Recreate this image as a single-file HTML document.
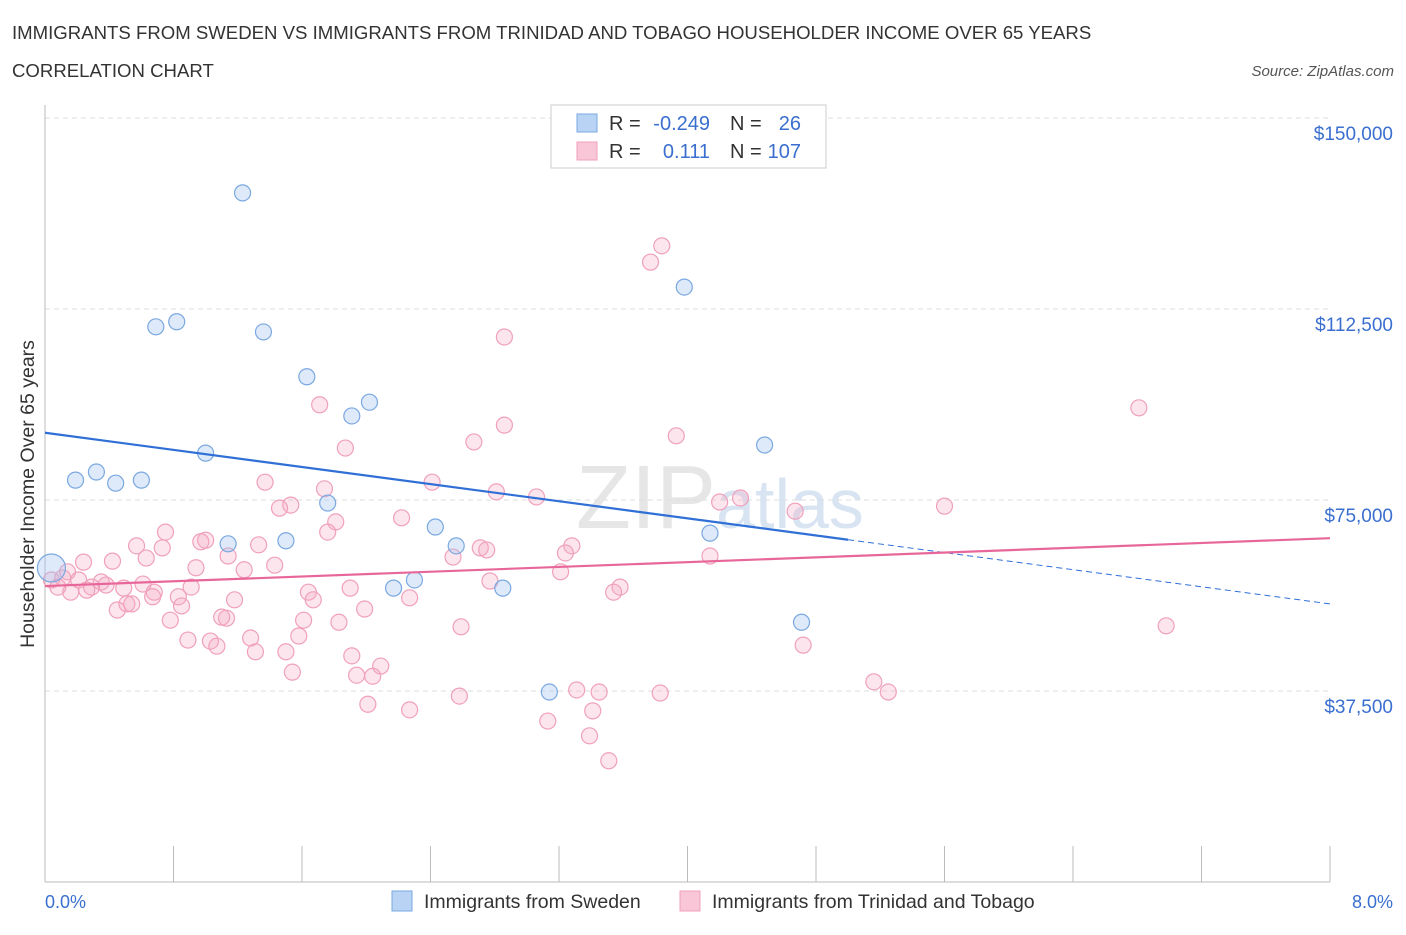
<!DOCTYPE html>
<html><head><meta charset="utf-8"><style>
body{margin:0;background:#fff;font-family:"Liberation Sans",sans-serif;}
svg text{font-family:"Liberation Sans",sans-serif;}
</style></head><body>
<svg id="chart" width="1406" height="930" xmlns="http://www.w3.org/2000/svg">
<text x="12" y="39" font-size="18.6" fill="#333">IMMIGRANTS FROM SWEDEN VS IMMIGRANTS FROM TRINIDAD AND TOBAGO HOUSEHOLDER INCOME OVER 65 YEARS</text>
<text x="12" y="77" font-size="18.6" fill="#333">CORRELATION CHART</text>
<text x="1394" y="76" font-size="15" fill="#555" font-style="italic" text-anchor="end">Source: ZipAtlas.com</text>
<text x="720" y="528" font-size="90" fill="#e6e6e6" text-anchor="middle" font-family="Liberation Serif">ZIP<tspan fill="#d8e4f2" font-family="Liberation Sans" font-size="70">atlas</tspan></text>
<g id="grid"></g><g id="axes"></g><g id="pts"></g><g id="trend"></g>
<text transform="translate(34,494) rotate(-90)" font-size="19.5" fill="#333" text-anchor="middle">Householder Income Over 65 years</text>
<text x="45" y="908" font-size="18" fill="#3a6fd0">0.0%</text>
<text x="1393" y="908" font-size="18" fill="#3a6fd0" text-anchor="end">8.0%</text>
<g>
<rect x="551" y="105" width="275" height="63" fill="#fff" stroke="#ccc"/>
<rect x="577" y="114" width="20" height="18" fill="#b9d3f5" stroke="#7aa8e0"/>
<rect x="577" y="142" width="20" height="18" fill="#f8c6d6" stroke="#f0a0bb"/>
<text y="130" font-size="20" fill="#333"><tspan x="609">R =</tspan><tspan x="710" text-anchor="end" fill="#3a6fd0">-0.249</tspan><tspan x="730">N =</tspan><tspan x="801" text-anchor="end" fill="#3a6fd0">26</tspan></text>
<text y="158" font-size="20" fill="#333"><tspan x="609">R =</tspan><tspan x="710" text-anchor="end" fill="#3a6fd0">0.111</tspan><tspan x="730">N =</tspan><tspan x="801" text-anchor="end" fill="#3a6fd0">107</tspan></text>
</g>
<g>
<rect x="392" y="891" width="20" height="20" fill="#b9d3f5" stroke="#7aa8e0"/>
<text x="424" y="908" font-size="19.5" fill="#333">Immigrants from Sweden</text>
<rect x="680" y="891" width="20" height="20" fill="#f8c6d6" stroke="#f0a0bb"/>
<text x="712" y="908" font-size="19.5" fill="#333">Immigrants from Trinidad and Tobago</text>
</g>
</svg>
<script>
const yTicks=[37500,75000,112500,150000];
const yTickLabels=["$37,500","$75,000","$112,500","$150,000"];
const blueX=[0.04,1.23,0.69,0.82,1.36,3.98,1.63,2.02,1.91,1.00,4.48,0.19,0.32,0.44,0.60,1.76,2.43,1.14,1.50,2.56,4.14,2.17,2.30,2.85,4.71,3.14];
const blueY=[61.65,135.3,109.0,110.0,108.0,116.8,99.2,94.2,91.5,84.2,85.8,78.9,80.5,78.3,78.9,74.4,69.7,66.4,67.0,66.0,68.5,57.7,59.3,57.7,51.0,37.3];
const pinkX=[3.84,3.77,2.86,1.71,6.81,2.86,1.87,2.67,3.93,1.37,2.41,2.81,1.74,3.06,4.20,4.33,1.53,1.46,2.22,4.67,5.60,1.81,0.75,1.76,1.00,0.97,0.57,0.73,1.33,2.71,2.75,3.28,3.24,2.54,4.14,0.63,0.24,0.42,1.14,0.14,1.43,1.24,0.94,3.21,0.04,0.11,0.21,0.35,0.49,0.61,0.91,0.29,0.08,0.16,0.26,0.38,1.90,2.77,3.58,3.54,1.64,0.68,0.67,0.83,1.67,2.27,1.18,0.85,0.51,0.45,0.54,1.99,1.13,1.10,1.61,0.78,2.59,1.83,6.98,0.89,1.03,1.58,1.28,1.07,1.31,4.72,1.50,1.91,2.09,1.54,1.94,2.04,5.16,5.25,3.31,3.45,3.83,2.58,2.01,2.27,3.41,3.13,3.39,3.51];
const pinkY=[124.9,121.7,107.0,93.7,93.1,89.7,85.2,86.4,87.6,78.5,78.5,76.6,77.2,75.6,74.6,75.4,74.0,73.4,71.5,72.8,73.8,70.7,68.7,68.7,67.1,66.8,66.0,65.6,66.2,65.6,65.2,66.0,64.6,63.8,64.0,63.6,62.8,63.0,64.0,60.9,62.2,61.3,61.7,60.9,59.3,59.7,59.3,58.9,57.7,58.5,57.9,57.9,57.9,56.9,57.3,58.3,57.7,59.1,57.9,56.9,56.9,56.9,56.0,56.0,55.4,55.8,55.4,54.2,54.6,53.4,54.6,53.6,51.8,52.0,51.4,51.4,50.1,51.0,50.3,47.5,47.3,48.3,47.9,46.3,45.2,46.5,45.2,44.4,42.4,41.2,40.6,40.4,39.3,37.3,37.7,37.3,37.1,36.5,34.9,33.8,33.6,31.6,28.7,23.8];
const blueTrend=[88.2,54.6];const blueSolidEnd=5.0;
const pinkTrend=[58.1,67.5];
const NS="http://www.w3.org/2000/svg";
const sx=v=>45+v*1285/8;
const sy=v=>882-v*191/37500;
function mk(tag,attrs,parent){const e=document.createElementNS(NS,tag);for(const k in attrs)e.setAttribute(k,attrs[k]);document.getElementById(parent).appendChild(e);return e;}
yTicks.forEach((t,i)=>{
 const l=mk('line',{x1:45,x2:1330,y1:sy(t),y2:sy(t),stroke:'#ddd','stroke-dasharray':'5,4'},'grid');
 
 
 const tx=mk('text',{x:1393,y:sy(t)+22,'font-size':19,fill:'#3a6fd0','text-anchor':'end'},'grid');
 tx.textContent=yTickLabels[i];
 
 
});
const ax=mk('line',{x1:45,x2:45,y1:105,y2:882,stroke:'#bbb'},'axes');


const bx=mk('line',{x1:45,x2:1330,y1:882,y2:882,stroke:'#bbb'},'axes');


for(let i=0;i<=10;i++){const t=mk('line',{x1:sx(i*0.8),x2:sx(i*0.8),y1:i==0?105:846,y2:882,stroke:'#bbb'},'axes');
 
 }
pinkX.forEach((x,i)=>{const c=mk('circle',{cx:sx(x),cy:sy(pinkY[i]*1000),r:8,fill:'rgba(245,170,195,0.3)',stroke:'#f0a0bb','stroke-width':1.2},'pts');
 
 });
blueX.forEach((x,i)=>{const c=mk('circle',{cx:sx(x),cy:sy(blueY[i]*1000),r:i==0?14:8,fill:'rgba(160,196,240,0.35)',stroke:'#7aa8e0','stroke-width':1.2},'pts');
 
 });
const bAt=x=>blueTrend[0]+(blueTrend[1]-blueTrend[0])*x/8;
const t1=mk('line',{x1:sx(0),y1:sy(bAt(0)*1000),x2:sx(blueSolidEnd),y2:sy(bAt(blueSolidEnd)*1000),stroke:'#2f6fd6','stroke-width':2.2},'trend');


const t2=mk('line',{x1:sx(blueSolidEnd),y1:sy(bAt(blueSolidEnd)*1000),x2:sx(8),y2:sy(bAt(8)*1000),stroke:'#2f6fd6','stroke-width':1,'stroke-dasharray':'6,4'},'trend');


const t3=mk('line',{x1:sx(0),y1:sy(pinkTrend[0]*1000),x2:sx(8),y2:sy(pinkTrend[1]*1000),stroke:'#e8679a','stroke-width':2.2},'trend');


</script>
</body></html>
